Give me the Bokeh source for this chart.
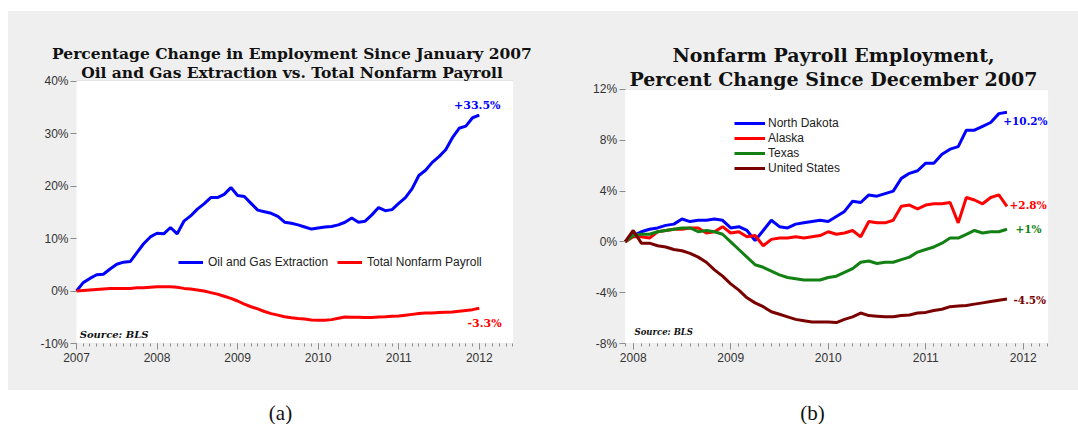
import numpy as np
from bokeh.plotting import figure
from bokeh.models import (FixedTicker, PrintfTickFormatter, Legend, LegendItem, Label,
                          Spacer, ColumnDataSource, Range1d, BoxAnnotation)
from bokeh.layouts import row, column
from bokeh.embed import file_html
from bokeh.resources import INLINE

# ---------------- Data: chart (a), monthly Jan 2007 .. Jan 2012 (% change) ----------------
a_start_year = 2007
a_years = [2007, 2008, 2009, 2010, 2011, 2012]
oil_gas = [0.0, 1.6, 2.4, 3.1, 3.2, 4.2, 5.1, 5.5, 5.6, 7.3, 9.0, 10.3,
           11.0, 10.9, 12.1, 10.9, 13.3, 14.3, 15.6, 16.6, 17.8, 17.8, 18.4, 19.7,
           18.2, 18.0, 16.7, 15.4, 15.1, 14.8, 14.2, 13.1, 12.9, 12.6, 12.2, 11.8,
           12.0, 12.2, 12.3, 12.6, 13.1, 13.9, 13.1, 13.3, 14.5, 15.9, 15.3, 15.5,
           16.7, 17.8, 19.5, 22.0, 23.0, 24.5, 25.6, 26.9, 29.2, 31.0, 31.4, 33.0,
           33.5]
nonfarm_total = [0.0, 0.1, 0.2, 0.3, 0.4, 0.5, 0.5, 0.5, 0.5, 0.6, 0.6, 0.7,
                 0.8, 0.8, 0.8, 0.7, 0.5, 0.4, 0.2, 0.0, -0.3, -0.6, -1.0, -1.4,
                 -1.9, -2.5, -3.0, -3.4, -3.9, -4.3, -4.6, -4.9, -5.1, -5.25, -5.35, -5.5,
                 -5.55, -5.55, -5.45, -5.2, -4.95, -5.0, -5.0, -5.05, -5.05, -4.95, -4.9, -4.8,
                 -4.75, -4.6, -4.45, -4.3, -4.2, -4.2, -4.1, -4.05, -4.0, -3.85, -3.7, -3.55,
                 -3.3]
a_yticks = [-10, 0, 10, 20, 30, 40]
a_title = ["Percentage Change in Employment Since January 2007",
           "Oil and Gas Extraction vs. Total Nonfarm Payroll"]
a_series = ["Oil and Gas Extraction", "Total Nonfarm Payroll"]

# ---------------- Data: chart (b), monthly Dec 2007 .. Nov 2011 (% change) ----------------
b_start_year = 2007 + 11 / 12
b_years = [2008, 2009, 2010, 2011, 2012]
north_dakota = [0.0, 0.5, 0.8, 1.0, 1.1, 1.3, 1.4, 1.8, 1.6, 1.7, 1.7, 1.8,
                1.7, 1.1, 1.2, 0.9, 0.1, 0.9, 1.7, 1.2, 1.1, 1.4, 1.5, 1.6,
                1.7, 1.6, 2.0, 2.4, 3.2, 3.1, 3.7, 3.6, 3.8, 4.0, 5.0, 5.4,
                5.6, 6.2, 6.2, 6.9, 7.3, 7.5, 8.8, 8.8, 9.1, 9.4, 10.1, 10.2]
alaska = [0.0, 0.4, 0.4, 0.3, 0.8, 0.9, 1.0, 1.0, 1.1, 1.1, 0.7, 0.8,
          1.2, 0.7, 0.8, 0.4, 0.5, -0.3, 0.2, 0.3, 0.3, 0.4, 0.3, 0.4,
          0.5, 0.8, 0.6, 0.7, 0.9, 0.4, 1.6, 1.5, 1.5, 1.7, 2.8, 2.9,
          2.6, 2.9, 3.0, 3.0, 3.1, 1.5, 3.5, 3.3, 3.0, 3.5, 3.7, 2.8]
texas = [0.0, 0.5, 0.6, 0.6, 0.8, 0.9, 1.0, 1.1, 1.1, 0.8, 0.9, 0.8,
         0.6, 0.0, -0.6, -1.2, -1.8, -2.0, -2.3, -2.6, -2.8, -2.9, -3.0, -3.0,
         -3.0, -2.8, -2.7, -2.4, -2.1, -1.6, -1.5, -1.7, -1.6, -1.6, -1.4, -1.2,
         -0.8, -0.6, -0.4, -0.1, 0.3, 0.3, 0.6, 0.9, 0.7, 0.8, 0.8, 1.0]
united_states = [0.0, 0.9, -0.1, -0.1, -0.3, -0.4, -0.6, -0.7, -0.9, -1.2, -1.6, -2.2,
                 -2.7, -3.3, -3.8, -4.4, -4.8, -5.1, -5.5, -5.7, -5.9, -6.1, -6.2, -6.3,
                 -6.3, -6.3, -6.35, -6.1, -5.9, -5.6, -5.8, -5.85, -5.9, -5.9, -5.8, -5.75,
                 -5.6, -5.55, -5.4, -5.3, -5.1, -5.05, -5.0, -4.9, -4.8, -4.7, -4.6, -4.5]
b_yticks = [-8, -4, 0, 4, 8, 12]
b_title = ["Nonfarm Payroll Employment,", "Percent Change Since December 2007"]
b_series = ["North Dakota", "Alaska", "Texas", "United States"]

BG = "#efefef"
TITLE_FONT = "DejaVu Serif"
AX_FONT = "Liberation Sans"


def style(p, x0, x1, years, minor, yticks):
    # the frame fills the figure; a white box marks the chart's own area
    p.background_fill_color = BG
    p.border_fill_color = BG
    p.outline_line_color = None
    box = BoxAnnotation(left=x0, right=x1, bottom=yticks[0], top=yticks[-1],
                        fill_color="white", fill_alpha=1.0, line_color=None, level="underlay")
    p.center = [box] + list(p.center)
    p.grid.grid_line_color = None
    # horizontal gridlines across the white box only
    p.segment(x0=[x0] * len(yticks), x1=[x1] * len(yticks), y0=yticks, y1=yticks,
              line_color="#d9d9d9", line_width=1, level="underlay")
    p.xaxis.ticker = FixedTicker(ticks=years, minor_ticks=minor)
    p.yaxis.ticker = FixedTicker(ticks=yticks, minor_ticks=[])
    p.yaxis.fixed_location = x0
    p.xaxis.fixed_location = yticks[0]
    p.xaxis.formatter = PrintfTickFormatter(format="%d")
    p.yaxis.formatter = PrintfTickFormatter(format="%d%%")
    for ax in (p.xaxis[0], p.yaxis[0]):
        ax.axis_line_color = None
        ax.major_tick_line_color = "#8c8c8c"
        ax.minor_tick_line_color = "#8c8c8c"
        ax.major_label_text_font = AX_FONT
        ax.major_label_text_font_size = "12px"
        ax.major_label_text_color = "#333333"
    p.xaxis.major_tick_in = 0
    p.xaxis.major_tick_out = 6
    p.xaxis.minor_tick_in = 0
    p.xaxis.minor_tick_out = 3
    p.xaxis.major_label_standoff = 3
    p.yaxis.major_tick_in = 0
    p.yaxis.major_tick_out = 6
    p.yaxis.minor_tick_out = 0
    p.yaxis.major_label_standoff = 2


def add_title(p, lines, xc, ys, size):
    for txt, y in zip(lines, ys):
        p.add_layout(Label(x=xc, y=y, text=txt, text_align="center",
                           text_baseline="alphabetic", text_font=TITLE_FONT,
                           text_font_size=size, text_font_style="bold",
                           text_color="#111111"))


# ---------------- Chart (a) ----------------
a_x0, a_x1 = 2007.0, 2012.42
xa = a_start_year + np.arange(len(oil_gas)) / 12
pa = figure(width=532, height=379, output_backend="svg", toolbar_location=None,
            x_range=Range1d(2006.156, 2012.760), y_range=Range1d(-18.95, 53.24),
            min_border_left=0, min_border_right=0, min_border_top=0, min_border_bottom=0)
minor_a = list(2007 + np.arange(0, 66) / 12)
style(pa, a_x0, a_x1, a_years, minor_a, a_yticks)
add_title(pa, a_title, 2009.675, [45.2, 41.7], "15.5px")

src_a = ColumnDataSource(dict(x=xa, oil=oil_gas, tot=nonfarm_total))
r_oil = pa.line("x", "oil", source=src_a, line_width=3, color="#0000ff")
r_tot = pa.line("x", "tot", source=src_a, line_width=3, color="#ff0000")

leg_a = Legend(items=[LegendItem(label=a_series[0], renderers=[r_oil]),
                      LegendItem(label=a_series[1], renderers=[r_tot])],
               location=(170, 118), orientation="horizontal", padding=0, margin=0,
               spacing=9, glyph_width=25, glyph_height=20, label_height=20,
               label_standoff=5, label_text_font=AX_FONT, label_text_font_size="12px",
               label_text_color="#222222", background_fill_alpha=0, border_line_alpha=0)
pa.add_layout(leg_a)

pa.add_layout(Label(x=2011.975, y=35.4, text="+%.1f%%" % oil_gas[-1], text_align="center",
                    text_baseline="middle", text_font=TITLE_FONT, text_font_style="bold",
                    text_font_size="11px", text_color="#0000ff"))
pa.add_layout(Label(x=2012.065, y=-6.2, text="%.1f%%" % nonfarm_total[-1], text_align="center",
                    text_baseline="middle", text_font=TITLE_FONT, text_font_style="bold",
                    text_font_size="11px", text_color="#ff0000"))
pa.add_layout(Label(x=2007.04, y=-8.35, text="Source: BLS", text_align="left",
                    text_baseline="middle", text_font=TITLE_FONT, text_font_style="bold italic",
                    text_font_size="10px", text_color="#111111"))

# ---------------- Chart (b) ----------------
b_x0, b_x1 = b_start_year, 2012.256
xb = b_start_year + np.arange(len(north_dakota)) / 12
pb = figure(width=538, height=379, output_backend="svg", toolbar_location=None,
            x_range=Range1d(2007.049, 2012.567), y_range=Range1d(-11.70, 18.14),
            min_border_left=0, min_border_right=0, min_border_top=0, min_border_bottom=0)
minor_b = list(b_start_year + np.arange(0, 53) / 12)
style(pb, b_x0, b_x1, b_years, minor_b, b_yticks)
add_title(pb, b_title, 2010.054, [14.75, 12.83], "19px")

src_b = ColumnDataSource(dict(x=xb, nd=north_dakota, ak=alaska, tx=texas, us=united_states))
cols_b = [("nd", "#0000ff"), ("ak", "#ff0000"), ("tx", "#138013"), ("us", "#7a0000")]
items_b = []
for (col, colr), name in zip(cols_b, b_series):
    r = pb.line("x", col, source=src_b, line_width=3, color=colr)
    items_b.append(LegendItem(label=name, renderers=[r]))

leg_b = Legend(items=items_b, location=(194, 215), orientation="vertical", padding=0, margin=0,
               spacing=1, glyph_width=31, glyph_height=14, label_height=14,
               label_standoff=3, label_text_font=AX_FONT, label_text_font_size="12px",
               label_text_color="#222222", background_fill_alpha=0, border_line_alpha=0)
pb.add_layout(leg_b)

end_labels = [(2011.795, 9.55, "+%.1f%%" % north_dakota[-1], "#0000ff"),
              (2011.86, 2.94, "+%.1f%%" % alaska[-1], "#ff0000"),
              (2011.92, 1.02, "+%g%%" % texas[-1], "#138013"),
              (2011.90, -4.6, "%.1f%%" % united_states[-1], "#7a0000")]
for x, y, t, c in end_labels:
    pb.add_layout(Label(x=x, y=y, text=t, text_align="left", text_baseline="middle",
                        text_font=TITLE_FONT, text_font_style="bold",
                        text_font_size="10.5px", text_color=c))
pb.add_layout(Label(x=2008.013, y=-7.06, text="Source: BLS", text_align="left",
                    text_baseline="middle", text_font=TITLE_FONT, text_font_style="bold italic",
                    text_font_size="8.5px", text_color="#111111"))

# ---------------- Captions ----------------
pc = figure(width=1070, height=34, output_backend="svg", toolbar_location=None,
            x_range=Range1d(0, 1070), y_range=Range1d(0, 34),
            min_border=0, min_border_left=0, min_border_right=0,
            min_border_top=0, min_border_bottom=0)
pc.axis.visible = False
pc.grid.visible = False
pc.outline_line_color = None
pc.background_fill_color = "white"
pc.border_fill_color = "white"
for cx, txt in [(272, "(a)"), (804, "(b)")]:
    pc.add_layout(Label(x=cx, y=12, text=txt, text_align="center", text_baseline="middle",
                        text_font="Liberation Serif", text_font_size="21px",
                        text_color="#111111"))

charts = row(pa, pb, spacing=0, styles={"background-color": BG})
layout = column(Spacer(width=1078, height=11),
                row(Spacer(width=8, height=379), charts, spacing=0),
                row(Spacer(width=8, height=34), pc, spacing=0),
                spacing=0)

open("out.html", "w").write(file_html(layout, INLINE))
